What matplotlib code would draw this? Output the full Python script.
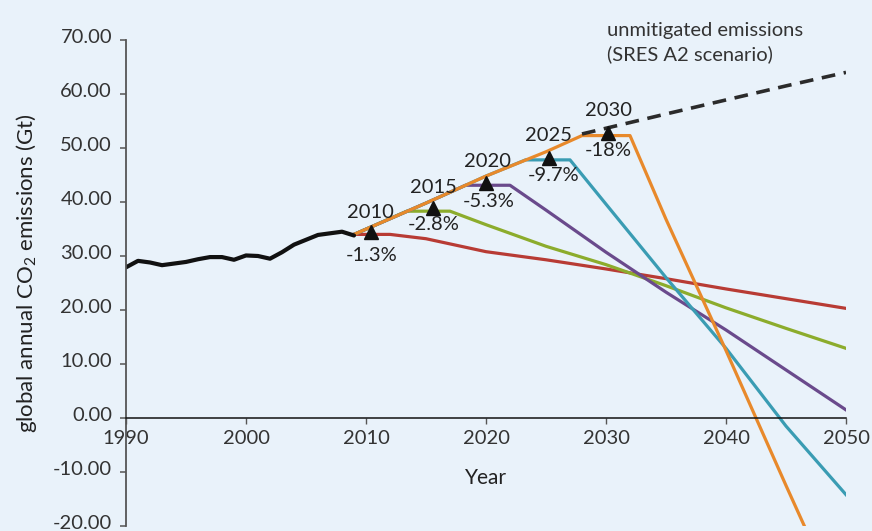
import matplotlib
matplotlib.use("Agg")
import matplotlib.pyplot as plt
import matplotlib.transforms as mtransforms

plt.rcParams['font.family'] = ['Lato', 'DejaVu Sans']
plt.rcParams['axes.unicode_minus'] = False

# historical emissions
hist_years = list(range(1990, 2010))
hist_vals = [27.9, 29.1, 28.8, 28.3, 28.6, 28.9, 29.4, 29.8, 29.8, 29.3,
             30.1, 30.0, 29.5, 30.7, 32.1, 33.0, 33.9, 34.2, 34.5, 33.8]

# pathways, peaking in different years
red_years = [2009, 2012, 2015, 2020, 2025, 2030, 2035, 2040, 2045, 2050]
red_vals = [34.0, 34.0, 33.2, 30.8, 29.3, 27.6, 25.8, 23.9, 22.1, 20.3]

green_years = [2009, 2013.4, 2017, 2020, 2025, 2030, 2035, 2040, 2045, 2050]
green_vals = [34.0, 38.3, 38.3, 35.8, 31.8, 28.4, 24.5, 20.4, 16.6, 12.9]

purple_years = [2009, 2015, 2018.3, 2022, 2025, 2030, 2035, 2040, 2045, 2050]
purple_vals = [34.0, 39.8, 43.1, 43.1, 38.5, 30.7, 23.3, 16.3, 8.9, 1.5]

blue_years = [2009, 2015, 2020, 2023.3, 2027, 2030, 2035, 2040, 2045, 2050]
blue_vals = [34.0, 39.8, 44.8, 47.8, 47.8, 39.6, 26.0, 12.9, -1.5, -14.2]

orange_years = [2009, 2015, 2020, 2025, 2028, 2032, 2035, 2040, 2045, 2050]
orange_vals = [34.0, 39.8, 44.8, 49.3, 52.3, 52.3, 36.8, 12.5, -12.5, -37.0]

# unmitigated (SRES A2)
a2_years = [2028, 2035, 2040, 2045, 2050]
a2_vals = [52.6, 56.3, 58.9, 61.5, 64.0]

# peak markers and their labels
peak_years = [2010.4, 2015.6, 2020.0, 2025.25, 2030.2]
peak_vals = [34.5, 38.9, 43.6, 48.2, 52.7]
peak_labels = ['2010', '2015', '2020', '2025', '2030']
cut_labels = ['-1.3%', '-2.8%', '-5.3%', '-9.7%', '-18%']
label_pos = [(2010.33, 38.0), (2015.6, 42.7), (2020.1, 47.5), (2025.2, 52.3), (2030.25, 56.9)]
cut_pos = [(2010.5, 30.1), (2015.6, 35.8), (2020.25, 40.1), (2025.6, 44.9), (2030.2, 49.5)]

yticks = list(range(-20, 80, 10))
xticks = list(range(1990, 2060, 10))

bg = '#e9f2fa'
fs = 14.5
fig = plt.figure(figsize=(8.72, 5.31), dpi=100, facecolor=bg)
ax = fig.add_axes([126/872, 5/531, 720/872, 486/531], facecolor=bg)

lw = 2.3
ax.plot(red_years, red_vals, color='#b83b34', lw=lw)
ax.plot(green_years, green_vals, color='#8cac2c', lw=lw)
ax.plot(purple_years, purple_vals, color='#6a4a8c', lw=lw)
ax.plot(blue_years, blue_vals, color='#3a9cb3', lw=lw)
ax.plot(orange_years, orange_vals, color='#e8892b', lw=lw)
ax.plot(a2_years, a2_vals, color='#2b2b2b', lw=2.6, dashes=(3.8, 2.4))
ax.plot(hist_years, hist_vals, color='#111111', lw=3.0, solid_capstyle='round')
ax.plot(peak_years, peak_vals, '^', color='#111111', ms=10.5, ls='none')

for (x, y), t in zip(label_pos, peak_labels):
    ax.text(x, y, t, ha='center', va='center', fontsize=fs, color='#222222')
for (x, y), t in zip(cut_pos, cut_labels):
    ax.text(x, y, t, ha='center', va='center', fontsize=fs, color='#222222')

ax.text(2030.1, 69.5, 'unmitigated emissions\n(SRES A2 scenario)', ha='left', va='center',
        fontsize=fs, color='#333333', linespacing=1.45, clip_on=False)

ax.set_xlim(1990, 2050)
ax.set_ylim(-20, 70)
ax.set_xticks(xticks)
ax.set_yticks(yticks)
ax.set_yticklabels(['%.2f' % v for v in yticks])

ax.spines['top'].set_visible(False)
ax.spines['right'].set_visible(False)
ax.spines['bottom'].set_position(('data', 0))
ax.spines['bottom'].set_color('#111111')
ax.spines['bottom'].set_linewidth(1.1)
ax.spines['left'].set_color('#555555')
ax.spines['left'].set_linewidth(1.3)

ax.tick_params(axis='y', direction='out', length=4, width=1.1, color='#555555',
               pad=6, labelsize=fs, labelcolor='#333333')
ax.tick_params(axis='x', direction='out', length=4, width=1.0, color='#555555',
               pad=5, labelsize=fs, labelcolor='#333333')

# y labels sit a little above their ticks in the original
shift = mtransforms.ScaledTranslation(0, 3/72, fig.dpi_scale_trans)
for lab in ax.get_yticklabels():
    lab.set_transform(lab.get_transform() + shift)
for lab in ax.get_xticklabels():
    lab.set_bbox(dict(facecolor=bg, edgecolor='none', pad=2))

ax.set_xlabel('Year', fontsize=15, color='#222222')
ax.xaxis.set_label_coords(0.5, 0.119)

fig.text(27/872, 1 - 273/531, r'global annual CO$\mathregular{_2}$ emissions (Gt)',
         rotation=90, ha='center', va='center', fontsize=16, color='#222222')

fig.savefig('out.png', dpi=100, facecolor=bg)
